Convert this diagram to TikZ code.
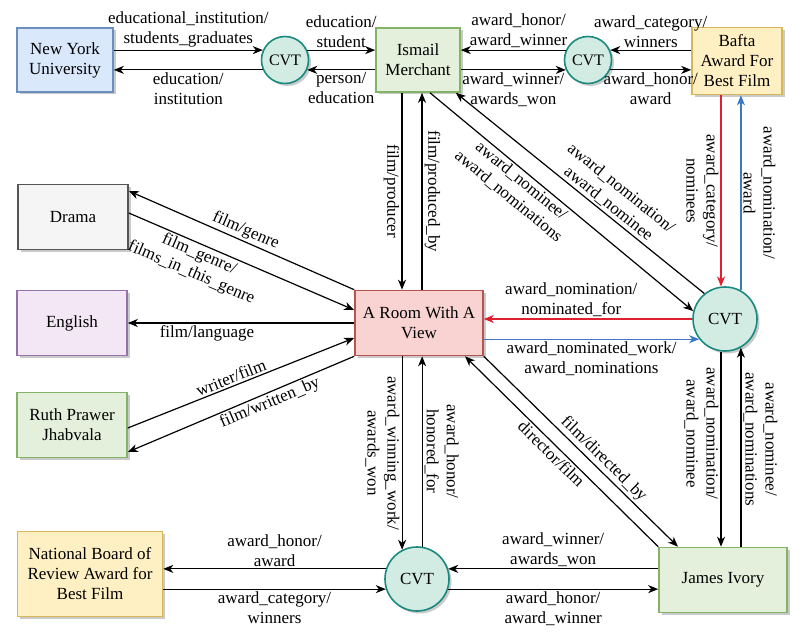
\documentclass[tikz,border=0pt]{standalone}
\usepackage{fontspec}
\setmainfont{Liberation Serif}
\usetikzlibrary{arrows.meta,shadows}

\definecolor{bluefill}{HTML}{DAE8FC}
\definecolor{blueline}{HTML}{6C8EBF}
\definecolor{greenfill}{HTML}{E4F0DC}
\definecolor{greenline}{HTML}{82B366}
\definecolor{yellowfill}{HTML}{FFF0C4}
\definecolor{yellowline}{HTML}{D6B656}
\definecolor{grayfill}{HTML}{F5F5F5}
\definecolor{grayline}{HTML}{555555}
\definecolor{purplefill}{HTML}{F3E7F5}
\definecolor{purpleline}{HTML}{9673A6}
\definecolor{redfill}{HTML}{F8D3D1}
\definecolor{redline}{HTML}{B85450}
\definecolor{cvtfill}{HTML}{D3ECE3}
\definecolor{cvtline}{HTML}{1A8A80}
\definecolor{redarrow}{HTML}{E0202E}
\definecolor{bluearrow}{HTML}{3B78C6}

\tikzset{
  box/.style={rectangle, line width=1.6pt, align=center, inner sep=2pt,
    drop shadow={shadow xshift=2.5pt, shadow yshift=-2.5pt, opacity=.35, fill=black!60}},
  greenbox/.style={box, fill=greenfill, draw=greenline},
  yellowbox/.style={box, fill=yellowfill, draw=yellowline},
  cvt/.style={circle, fill=cvtfill, draw=cvtline, line width=1.6pt, inner sep=0pt,
    drop shadow={shadow xshift=2.5pt, shadow yshift=-2.5pt, opacity=.35, fill=black!60}},
  arr/.style={-{Stealth[length=10pt,width=8pt,inset=3pt]}, line width=1.2pt},
  lbl/.style={align=center, inner sep=2pt}
}

\begin{document}
\begin{tikzpicture}[x=1pt,y=1pt,font=\fontsize{17}{20}\selectfont]
\useasboundingbox (0,0) rectangle (805,638);

% top row
\node[box, fill=bluefill, draw=blueline, minimum width=96, minimum height=64] (nyu) at (65,578) {New York\\University};
\node[cvt, minimum size=47, font=\fontsize{16}{18}\selectfont] (cvtedu) at (285,578) {CVT};
\node[greenbox, minimum width=84, minimum height=64] (ismail) at (418,578) {Ismail\\Merchant};
\node[cvt, minimum size=47, font=\fontsize{16}{18}\selectfont] (cvthonor) at (588,578) {CVT};
\node[yellowbox, minimum width=90, minimum height=67] (bafta) at (737,577) {Bafta\\Award For\\Best Film};

% left column
\node[box, fill=grayfill, draw=grayline, minimum width=110, minimum height=65] (drama) at (73,421) {Drama};
\node[box, fill=purplefill, draw=purpleline, minimum width=110, minimum height=65] (english) at (72,315) {English};
\node[greenbox, minimum width=110, minimum height=65] (ruth) at (72,213) {Ruth Prawer\\Jhabvala};

% middle
\node[box, fill=redfill, draw=redline, minimum width=128, minimum height=65] (room) at (419,315) {A Room With A\\View};
\node[cvt, minimum size=64] (cvtnom) at (725,319) {CVT};

% bottom row
\node[yellowbox, minimum width=145, minimum height=85] (nbr) at (90,64) {National Board of\\Review Award for\\Best Film};
\node[cvt, minimum size=64] (cvtwin) at (417,59) {CVT};
\node[greenbox, minimum width=128, minimum height=65] (james) at (723,58) {James Ivory};

% education
\draw[arr] (nyu.east |- cvtedu.156) -- node[lbl, above]{educational\_institution/\\students\_graduates} (cvtedu.156);
\draw[arr] (cvtedu.204) -- node[lbl, below]{education/\\institution} (nyu.east |- cvtedu.204);
\draw[arr] (cvtedu.24) -- node[lbl, above]{education/\\student} (ismail.west |- cvtedu.24);
\draw[arr] (ismail.west |- cvtedu.336) -- node[lbl, below]{person/\\education} (cvtedu.336);

% bafta honor
\draw[arr] (cvthonor.156) -- node[lbl, above, pos=.45]{award\_honor/\\award\_winner} (ismail.east |- cvthonor.156);
\draw[arr] (ismail.east |- cvthonor.204) -- node[lbl, below]{award\_winner/\\awards\_won} (cvthonor.204);
\draw[arr] (bafta.west |- cvthonor.24) -- node[lbl, above]{award\_category/\\winners} (cvthonor.24);
\draw[arr] (cvthonor.336) -- node[lbl, below]{award\_honor/\\award} (bafta.west |- cvthonor.336);

% producer
\draw[arr] ([xshift=-16]ismail.south) -- node[lbl, rotate=-90, anchor=north]{film/producer} ([xshift=-16]ismail.south |- room.north);
\draw[arr] ([xshift=4]ismail.south |- room.north) -- node[lbl, rotate=-90, anchor=south]{film/produced\_by} ([xshift=4]ismail.south);

% nominations
\draw[arr] ([xshift=12]ismail.south) -- node[lbl, sloped, below, pos=.37]{award\_nominee/\\award\_nominations} (cvtnom.166);
\draw[arr] (cvtnom.129) -- node[lbl, sloped, above, pos=.41]{award\_nomination/\\award\_nominee} ([xshift=-5]ismail.south east);
\draw[arr, redarrow] (bafta.south -| cvtnom.97) -- node[lbl, text=black, rotate=-90, anchor=north]{award\_category/\\nominees} (cvtnom.97);
\draw[arr, bluearrow] (cvtnom.61) -- node[lbl, text=black, rotate=-90, anchor=south]{award\_nomination/\\award} (bafta.south -| cvtnom.61);
\draw[arr, redarrow] (cvtnom.180) -- node[lbl, text=black, above, pos=.58]{award\_nomination/\\nominated\_for} (room.east |- cvtnom.180);
\draw[arr, bluearrow] (room.east |- cvtnom.218) -- node[lbl, text=black, below]{award\_nominated\_work/\\award\_nominations} (cvtnom.218);
\draw[arr] (cvtnom.263) -- node[lbl, rotate=-90, anchor=north, pos=.42]{award\_nomination/\\award\_nominee} (james.north -| cvtnom.263);
\draw[arr] (james.north -| cvtnom.299) -- node[lbl, rotate=-90, anchor=south, pos=.54]{award\_nominee/\\award\_nominations} (cvtnom.299);

% genre, language, writer
\draw[arr] (room.north west) -- node[lbl, sloped, above]{film/genre} ([yshift=26]drama.east);
\draw[arr] ([yshift=4]drama.east) -- node[lbl, sloped, below, pos=.33]{film\_genre/\\films\_in\_this\_genre} ([yshift=13]room.west);
\draw[arr] (room.west) -- node[lbl, below, pos=.65]{film/language} (english.east);
\draw[arr] ([yshift=-3]ruth.east) -- node[lbl, sloped, above, pos=.47]{writer/film} ([yshift=-15]room.west);
\draw[arr] (room.south west) -- node[lbl, sloped, below, pos=.39]{film/written\_by} ([yshift=-27]ruth.east);

% winning work
\draw[arr] (room.south -| cvtwin.117) -- node[lbl, rotate=-90, anchor=north]{award\_winning\_work/\\awards\_won} (cvtwin.117);
\draw[arr] (cvtwin.81) -- node[lbl, rotate=-90, anchor=south]{award\_honor/\\honored\_for} (room.south -| cvtwin.81);
\draw[arr] (cvtwin.162) -- node[lbl, above]{award\_honor/\\award} (nbr.east |- cvtwin.162);
\draw[arr] (nbr.east |- cvtwin.198) -- node[lbl, below]{award\_category/\\winners} (cvtwin.198);
\draw[arr] (james.west |- cvtwin.18) -- node[lbl, above]{award\_winner/\\awards\_won} (cvtwin.18);
\draw[arr] (cvtwin.342) -- node[lbl, below]{award\_honor/\\award\_winner} (james.west |- cvtwin.342);

% director
\draw[arr] (room.south east) -- node[lbl, sloped, above, pos=.58]{film/directed\_by} ([xshift=-45]james.north);
\draw[arr] (james.north west) -- node[lbl, sloped, below, pos=.52]{director/film} ([xshift=46]room.south);
\end{tikzpicture}
\end{document}
